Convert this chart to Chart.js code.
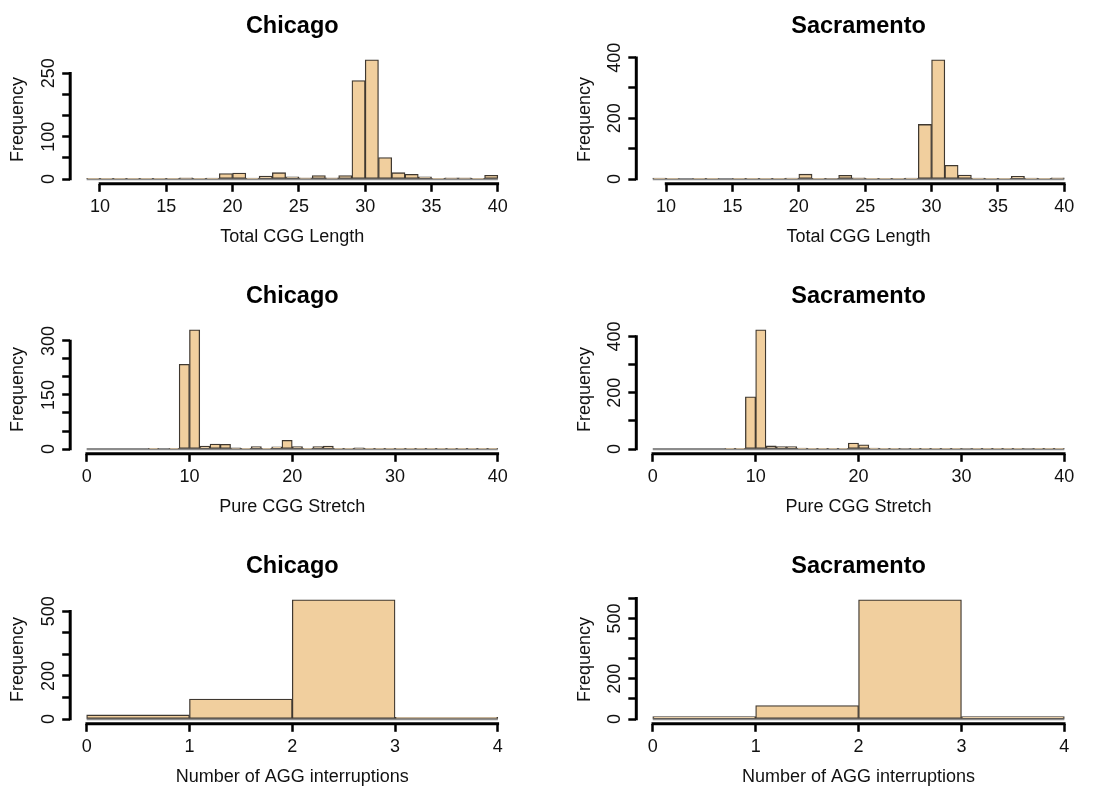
<!DOCTYPE html>
<html>
<head>
<meta charset="utf-8">
<script src="https://cdn.jsdelivr.net/npm/chart.js@4/dist/chart.umd.min.js"></script>
<style>
html,body{margin:0;padding:0;background:#fff;}
#wrap{position:relative;width:1110px;height:790px;overflow:hidden;background:#fff;}
canvas{position:absolute;}
</style>
</head>
<body>
<div id="wrap"></div>
<script>
// ---------- DATA ----------
const cities = ['Chicago', 'Sacramento'];
const xTitles = ['Total CGG Length', 'Pure CGG Stretch', 'Number of AGG interruptions'];

// histogram bin starts (each bin is 1 wide)
const totalBinStarts = [9,10,11,12,13,14,15,16,17,18,19,20,21,22,23,24,25,26,27,28,29,30,31,32,33,34,35,36,37,38,39];
const pureBinStarts = [0,1,2,3,4,5,6,7,8,9,10,11,12,13,14,15,16,17,18,19,20,21,22,23,24,25,26,27,28,29,30,31,32,33,34,35,36,37,38,39];
const aggBinStarts = [0,1,2,3];

// frequencies
const chicagoTotal    = [1,1,1,1,1,1,1,3,1,2,13,14,2,7,15,5,3,8,3,8,233,282,51,15,11,5,1,3,3,1,9];
const sacramentoTotal = [3,1,0,1,1,0,1,1,1,1,3,16,1,2,12,4,1,1,1,3,180,393,45,13,3,1,1,9,3,1,4];
const chicagoPure     = [0,0,0,0,0,0,1,0,1,235,331,8,14,13,3,2,7,2,6,24,7,2,7,8,2,2,3,1,2,2,2,2,1,1,2,2,1,1,1,1];
const sacramentoPure  = [0,0,0,0,0,0,0,1,1,186,424,11,9,9,3,1,1,1,1,21,15,3,1,1,2,1,1,1,1,1,2,1,1,1,1,1,2,1,1,1];
const chicagoAGG      = [19,93,553,8];
const sacramentoAGG   = [12,67,593,12];

// tick values / labels
const totalXTicks = [10,15,20,25,30,35,40];
const pureXTicks  = [0,10,20,30,40];
const aggXTicks   = [0,1,2,3,4];

const chicagoTotalYTicks = [0,50,100,150,200,250];
const chicagoTotalYLabels = [0,100,250];
const sacramentoTotalYTicks = [0,100,200,300,400];
const sacramentoTotalYLabels = [0,200,400];
const chicagoPureYTicks = [0,50,100,150,200,250,300];
const chicagoPureYLabels = [0,150,300];
const sacramentoPureYTicks = [0,100,200,300,400];
const sacramentoPureYLabels = [0,200,400];
const chicagoAGGYTicks = [0,100,200,300,400,500];
const chicagoAGGYLabels = [0,200,500];
const sacramentoAGGYTicks = [0,100,200,300,400,500,600];
const sacramentoAGGYLabels = [0,200,500];

// ---------- LAYOUT / STYLE ----------
const FONT = "'Liberation Sans', Arial, Helvetica, sans-serif";
const BAR_FILL = '#F1CF9E';
const BAR_EDGE = '#3f3830';
const TEXT = '#111';
const PANEL_W = 555, PANEL_H = 270;
const COLS = [{x:0, padL:0.2, padR:40.7}, {x:555, padL:11.3, padR:29.2}];

const panels = [
  {row:0, col:0, bins:totalBinStarts, counts:chicagoTotal,    xTicks:totalXTicks, yTicks:chicagoTotalYTicks,    yLabels:chicagoTotalYLabels},
  {row:0, col:1, bins:totalBinStarts, counts:sacramentoTotal, xTicks:totalXTicks, yTicks:sacramentoTotalYTicks, yLabels:sacramentoTotalYLabels},
  {row:1, col:0, bins:pureBinStarts,  counts:chicagoPure,     xTicks:pureXTicks,  yTicks:chicagoPureYTicks,     yLabels:chicagoPureYLabels},
  {row:1, col:1, bins:pureBinStarts,  counts:sacramentoPure,  xTicks:pureXTicks,  yTicks:sacramentoPureYTicks,  yLabels:sacramentoPureYLabels},
  {row:2, col:0, bins:aggBinStarts,   counts:chicagoAGG,      xTicks:aggXTicks,   yTicks:chicagoAGGYTicks,      yLabels:chicagoAGGYLabels},
  {row:2, col:1, bins:aggBinStarts,   counts:sacramentoAGG,   xTicks:aggXTicks,   yTicks:sacramentoAGGYTicks,   yLabels:sacramentoAGGYLabels}
];

function makeAxesPlugin(lo, hi) {
  return {
    id: 'rAxes',
    beforeDatasetsDraw(chart) {
      const {ctx} = chart; const xs = chart.scales.x, ys = chart.scales.y;
      const y0 = ys.getPixelForValue(0);
      ctx.save();
      ctx.strokeStyle = '#8c8c8c'; ctx.lineWidth = 2.2;
      ctx.beginPath();
      ctx.moveTo(xs.getPixelForValue(lo), y0);
      ctx.lineTo(xs.getPixelForValue(hi), y0);
      ctx.stroke();
      ctx.restore();
    },
    afterDraw(chart) {
      const {ctx, chartArea} = chart; const xs = chart.scales.x, ys = chart.scales.y;
      const xt = xs.ticks, yt = ys.ticks;
      ctx.save();
      ctx.strokeStyle = '#000'; ctx.lineWidth = 3; ctx.lineCap = 'butt';
      ctx.beginPath();
      ctx.moveTo(xs.getPixelForValue(xt[0].value) - 1.25, chartArea.bottom);
      ctx.lineTo(xs.getPixelForValue(xt[xt.length - 1].value) + 1.25, chartArea.bottom);
      ctx.moveTo(chartArea.left, ys.getPixelForValue(yt[0].value) + 1.25);
      ctx.lineTo(chartArea.left, ys.getPixelForValue(yt[yt.length - 1].value) - 1.25);
      ctx.stroke();
      ctx.restore();
    }
  };
}

const wrap = document.getElementById('wrap');
panels.forEach(p => {
  const c = COLS[p.col];
  const cv = document.createElement('canvas');
  cv.width = PANEL_W; cv.height = PANEL_H;
  cv.style.left = c.x + 'px'; cv.style.top = (p.row * PANEL_H) + 'px';
  cv.style.width = PANEL_W + 'px'; cv.style.height = PANEL_H + 'px';
  wrap.appendChild(cv);

  const lo = p.bins[0], hi = p.bins[p.bins.length - 1] + 1;
  const xr = hi - lo;
  const maxC = Math.max(...p.counts);
  const data = p.bins.map((b, i) => ({x: b + 0.5, y: p.counts[i]}));

  new Chart(cv, {
    type: 'bar',
    data: {
      datasets: [{
        data: data,
        backgroundColor: BAR_FILL,
        borderColor: BAR_EDGE,
        borderWidth: 1.3,
        borderSkipped: false,
        barPercentage: 1,
        categoryPercentage: 1
      }]
    },
    options: {
      responsive: false,
      animation: false,
      layout: {padding: {left: c.padL, right: c.padR, top: 0, bottom: 16.2}},
      plugins: {
        legend: {display: false},
        tooltip: {enabled: false},
        title: {
          display: true,
          text: cities[p.col],
          fullSize: false,
          color: '#000',
          font: {family: FONT, size: 23.5, weight: 'bold', lineHeight: 1.2},
          padding: {top: 12.4, bottom: 14.4}
        }
      },
      scales: {
        x: {
          type: 'linear',
          offset: false,
          min: lo - 0.04 * xr,
          max: hi + 0.04 * xr,
          afterBuildTicks: s => { s.ticks = p.xTicks.map(v => ({value: v})); },
          afterFit: s => { s.height = 70; },
          border: {display: false},
          grid: {display: true, offset: false, drawOnChartArea: false, drawTicks: true, tickLength: 8, tickWidth: 2.5, tickColor: '#000'},
          ticks: {autoSkip: false, maxRotation: 0, minRotation: 0, padding: 4.1, color: TEXT,
                  font: {family: FONT, size: 18, lineHeight: 1.2},
                  callback: v => String(v)},
          title: {display: true, text: xTitles[p.row], color: TEXT,
                  font: {family: FONT, size: 18, lineHeight: 1.2}, padding: {top: 0, bottom: 5.7}}
        },
        y: {
          type: 'linear',
          min: -0.04 * maxC,
          max: 1.04 * maxC,
          afterBuildTicks: s => { s.ticks = p.yTicks.map(v => ({value: v})); },
          afterFit: s => { s.width = 70; },
          border: {display: false},
          grid: {display: true, drawOnChartArea: false, drawTicks: true, tickLength: 8, tickWidth: 2.5, tickColor: '#000'},
          ticks: {autoSkip: false, minRotation: 90, maxRotation: 90, crossAlign: 'center', padding: -2, color: TEXT,
                  font: {family: FONT, size: 18, lineHeight: 1.2},
                  callback: v => (p.yLabels.indexOf(v) >= 0 ? String(v) : '')},
          title: {display: true, text: 'Frequency', color: TEXT,
                  font: {family: FONT, size: 18, lineHeight: 1.2}, padding: {top: 7.5, bottom: 0}}
        }
      }
    },
    plugins: [makeAxesPlugin(lo, hi)]
  });
});
</script>
</body>
</html>
